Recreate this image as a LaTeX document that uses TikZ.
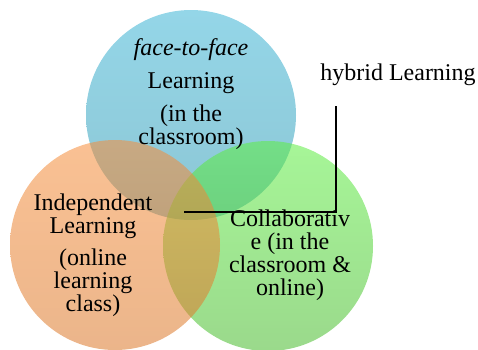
\documentclass[tikz,border=0pt]{standalone}
\usepackage{fontspec}
\setmainfont{Liberation Serif}
\definecolor{blueT}{RGB}{148,214,232}
\definecolor{blueB}{RGB}{140,198,212}
\definecolor{greenT}{RGB}{93,238,66}
\definecolor{greenB}{RGB}{71,186,44}
\definecolor{orangeT}{RGB}{246,142,59}
\definecolor{orangeB}{RGB}{219,120,42}
\begin{document}
\begin{tikzpicture}[x=1pt,y=-1pt,
  field/.style = {circle, minimum size=210pt, inner sep=0pt},
  txt/.style = {align=center, font=\fontsize{24}{23}\selectfont}]
  \useasboundingbox (0,0) rectangle (478,349);
  % the three fields
  \node[field, top color=blueT, bottom color=blueB] (face) at (191,115) {};
  \node[field, top color=greenT, bottom color=greenB, fill opacity=0.55] (collab) at (268,246) {};
  \node[field, top color=orangeT, bottom color=orangeB, fill opacity=0.55] (indep) at (115,245) {};
  % labels
  \node[txt] (facetxt) at (191,94.5) {\textit{face-to-face}\\[10pt] Learning\\[10pt] (in the\\ classroom)};
  \node[txt] (indeptxt) at (93,255) {Independent\\ Learning\\[9pt] (online\\ learning\\ class)};
  \node[txt] (collabtxt) at (290,255) {Collaborativ\\ e (in the\\ classroom \&\\ online)};
  \node[txt] (hybrid) at (398,75) {hybrid Learning};
  % bracket
  \coordinate (hyb) at (336,106);
  \coordinate (mid) at (184,212);
  \draw[line width=1.5pt] (mid) -| (hyb);
\end{tikzpicture}
\end{document}
